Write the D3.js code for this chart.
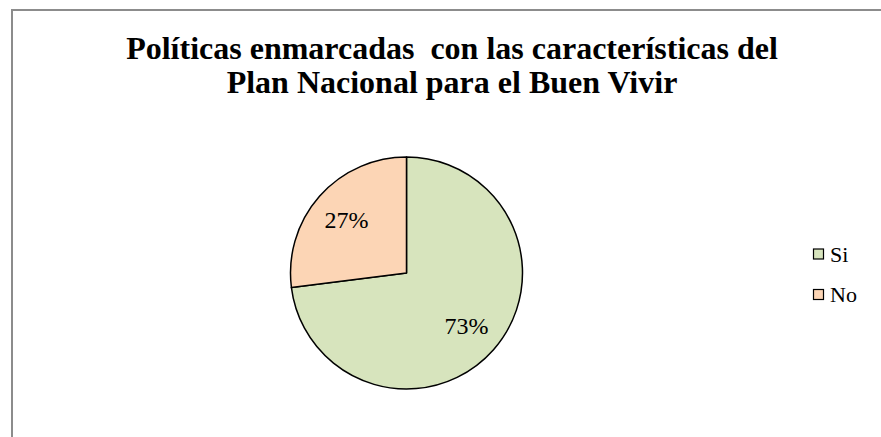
<!DOCTYPE html>
<html>
<head>
<meta charset="utf-8">
<script src="https://cdn.jsdelivr.net/npm/d3@7"></script>
</head>
<body style="margin:0">
<div id="chart"></div>
<script>
// Data
var categories = ["Si", "No"];
var values = [73, 27];
var colors = ["#d7e4bd", "#fcd5b5"];
var titleLines = ["Políticas enmarcadas  con las características del", "Plan Nacional para el Buen Vivir"];

var svgWidth = 881;
var svgHeight = 437;
var serifFont = '"Liberation Serif", "Times New Roman", Tinos, FreeSerif, Times, serif';

var svg = d3.select("#chart")
  .append("svg")
  .attr("width", svgWidth)
  .attr("height", svgHeight);

// chart frame (runs off the right and bottom edges)
svg.append("rect")
  .attr("x", 12)
  .attr("y", 10)
  .attr("width", 1000)
  .attr("height", 600)
  .attr("fill", "#fff")
  .attr("stroke", "#8c8c8c")
  .attr("stroke-width", 2);

// title
svg.selectAll(".title")
  .data(titleLines)
  .enter()
  .append("text")
  .attr("class", "title")
  .attr("x", 452)
  .attr("y", (d, i) => 59 + i * 34)
  .attr("text-anchor", "middle")
  .style("font-family", serifFont)
  .attr("font-size", 32)
  .attr("font-weight", "bold")
  .style("white-space", "pre")
  .text(d => d);

// pie
var cx = 406.5, cy = 273, radius = 116;

var pie = d3.pie()
  .sort(null)
  .value(d => d);

var arc = d3.arc()
  .innerRadius(0)
  .outerRadius(radius);

var labelArc = d3.arc()
  .innerRadius(radius * 0.69)
  .outerRadius(radius * 0.69);

var color = d3.scaleOrdinal()
  .domain(categories)
  .range(colors);

var pieGroup = svg.append("g")
  .attr("transform", `translate(${cx}, ${cy})`);

var arcs = pie(values);

pieGroup.selectAll("path")
  .data(arcs)
  .enter()
  .append("path")
  .attr("d", arc)
  .attr("fill", (d, i) => color(categories[i]))
  .attr("stroke", "#000")
  .attr("stroke-width", 1.5)
  .attr("stroke-linejoin", "round");

var total = d3.sum(values);

pieGroup.selectAll(".pieLabel")
  .data(arcs)
  .enter()
  .append("text")
  .attr("class", "pieLabel")
  .attr("transform", d => `translate(${labelArc.centroid(d)})`)
  .attr("text-anchor", "middle")
  .attr("dy", "0.35em")
  .style("font-family", serifFont)
  .attr("font-size", 24)
  .attr("fill", "#000")
  .text(d => Math.round(d.value / total * 100) + "%");

// legend
var legend = svg.append("g")
  .attr("transform", "translate(813, 254)");

var legendItems = legend.selectAll("g")
  .data(categories)
  .enter()
  .append("g")
  .attr("transform", (d, i) => `translate(0, ${i * 40.5})`);

legendItems.append("rect")
  .attr("x", 0.5)
  .attr("y", -5)
  .attr("width", 10)
  .attr("height", 10)
  .attr("fill", d => color(d))
  .attr("stroke", "#000")
  .attr("stroke-width", 1.2);

legendItems.append("text")
  .attr("x", 17)
  .attr("y", 0)
  .attr("dy", "0.35em")
  .style("font-family", serifFont)
  .attr("font-size", 22)
  .text(d => d);
</script>
</body>
</html>
